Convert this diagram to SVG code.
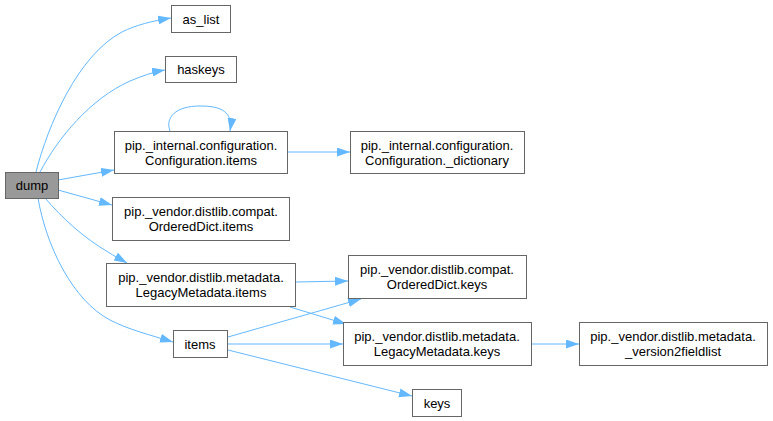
<svg xmlns="http://www.w3.org/2000/svg" width="773" height="421" viewBox="0 0 773 421">
<defs>
<style>
.n rect{fill:#fff;stroke:#666;stroke-width:1}
.n text{font-family:"Liberation Sans",Arial,sans-serif;font-size:13px;fill:#000;text-anchor:middle}
.e path{fill:none;stroke:#63b8ff;stroke-width:1}
</style>
<marker id="a" viewBox="0 0 13 9" refX="13" refY="4.5" markerWidth="13" markerHeight="9" markerUnits="userSpaceOnUse" orient="auto">
<polygon points="0,0 13,4.5 0,9" fill="#63b8ff"/>
</marker>
</defs>
<rect width="773" height="421" fill="#fff"/>
<g class="e">
<path marker-end="url(#a)" d="M36,172 C48,125 78,55 122,32 C136,25 152,21 171,18"/>
<path marker-end="url(#a)" d="M40,172 C58,138 90,99 130,81 C142,76 153,72 165,70"/>
<path marker-end="url(#a)" d="M58,180 L114,170"/>
<path marker-end="url(#a)" d="M58,190 L112,205"/>
<path marker-end="url(#a)" d="M45,198 C62,218 84,238 108,252 C114,256 120,259 127,263"/>
<path marker-end="url(#a)" d="M38,198 C46,245 72,300 110,320 C127,329 150,335 173,342"/>
<path marker-end="url(#a)" d="M170,131 C165,118 175,106 200,106 C222,106 233,112 230,131"/>
<path marker-end="url(#a)" d="M287,152 L350,152"/>
<path marker-end="url(#a)" d="M295,282 L348,281"/>
<path marker-end="url(#a)" d="M290,307 L346,324"/>
<path marker-end="url(#a)" d="M228,337 L361,299"/>
<path marker-end="url(#a)" d="M228,344 L343,344"/>
<path marker-end="url(#a)" d="M228,350 L412,396"/>
<path marker-end="url(#a)" d="M531,344 L579,344"/>
</g>
<g id="dump" class="n"><rect x="5.5" y="172.5" width="53" height="26" style="fill:#999"/><text x="32" y="190">dump</text></g>
<g id="as_list" class="n"><rect x="171.5" y="5.5" width="59" height="27"/><text x="201" y="23.5">as_list</text></g>
<g id="haskeys" class="n"><rect x="165.5" y="56.5" width="71" height="26"/><text x="201" y="74">haskeys</text></g>
<g id="config_items" class="n"><rect x="114.5" y="131.5" width="173" height="42"/><text x="201" y="149.5">pip._internal.configuration.</text><text x="201" y="165">Configuration.items</text></g>
<g id="config_dictionary" class="n"><rect x="350.5" y="131.5" width="174" height="42"/><text x="437" y="149.5">pip._internal.configuration.</text><text x="437" y="165">Configuration._dictionary</text></g>
<g id="od_items" class="n"><rect x="112.5" y="197.5" width="177" height="43"/><text x="201" y="215.5">pip._vendor.distlib.compat.</text><text x="201" y="231">OrderedDict.items</text></g>
<g id="lm_items" class="n"><rect x="106.5" y="263.5" width="189" height="43"/><text x="201" y="281.5">pip._vendor.distlib.metadata.</text><text x="201" y="297">LegacyMetadata.items</text></g>
<g id="items" class="n"><rect x="173.5" y="330.5" width="54" height="27"/><text x="200" y="348.5">items</text></g>
<g id="od_keys" class="n"><rect x="348.5" y="255.5" width="178" height="43"/><text x="437" y="273.5">pip._vendor.distlib.compat.</text><text x="437" y="289">OrderedDict.keys</text></g>
<g id="lm_keys" class="n"><rect x="343.5" y="322.5" width="188" height="43"/><text x="437" y="340.5">pip._vendor.distlib.metadata.</text><text x="437" y="356">LegacyMetadata.keys</text></g>
<g id="v2fl" class="n"><rect x="579.5" y="322.5" width="188" height="43"/><text x="673" y="340.5">pip._vendor.distlib.metadata.</text><text x="673" y="356">_version2fieldlist</text></g>
<g id="keys" class="n"><rect x="412.5" y="389.5" width="49" height="27"/><text x="437" y="407.5">keys</text></g>
</svg>
